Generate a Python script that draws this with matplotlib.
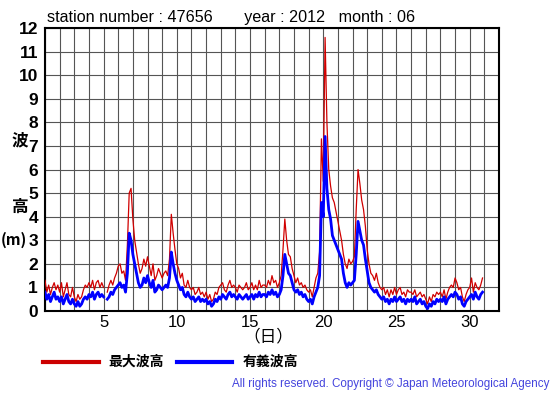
import numpy as np
import matplotlib
matplotlib.use('Agg')
import matplotlib.pyplot as plt
from matplotlib.lines import Line2D

STATION = '47656'
YEAR = '2012'
MONTH = '06'

# 3-hourly values, 8 per day, days 1..30 of June 2012
nan = np.nan
sig_wave = [  # significant wave height (m)
    0.8, 0.5, 0.7, 0.4, 0.6, 0.8, 0.5, 0.6,
    0.4, 0.6, 0.3, 0.5, 0.7, 0.4, 0.3, 0.5,
    0.3, 0.2, 0.4, 0.2, 0.3, 0.5, 0.6, 0.5,
    0.7, 0.6, 0.8, 0.5, 0.7, 0.8, 0.6, 0.7,
    0.6, nan, 0.5, 0.6, 0.8, 0.7, 0.9, 1.0,
    1.1, 1.2, 1.0, 1.1, 0.8, 1.6, 3.3, 3.0,
    2.4, 2.0, 1.6, 1.2, 1.0, 1.1, 1.4, 1.2,
    1.5, 1.2, 1.0, 1.3, 0.8, 0.9, 1.1, 1.0,
    0.9, 1.0, 1.1, 1.0, 1.4, 2.5, 2.0, 1.6,
    1.3, 1.1, 0.9, 1.0, 0.7, 0.6, 0.8, 0.6,
    0.5, 0.6, 0.4, 0.5, 0.6, 0.4, 0.5, 0.4,
    0.5, 0.3, 0.4, 0.2, 0.3, 0.5, 0.4, 0.6,
    0.5, 0.7, 0.6, 0.5, 0.7, 0.8, 0.6, 0.7,
    0.6, 0.5, 0.7, 0.6, 0.5, 0.6, 0.7, 0.5,
    0.6, 0.7, 0.5, 0.7, 0.6, 0.8, 0.6, 0.7,
    0.7, 0.6, 0.8, 0.7, 0.9, 0.7, 0.8, 0.6,
    0.7, 0.9, 1.5, 2.4, 2.0, 1.6, 1.5, 1.2,
    0.9, 0.8, 0.9, 0.7, 0.8, 0.6, 0.7, 0.5,
    0.4, 0.5, 0.3, 0.6, 0.8, 1.0, 1.5, 4.6,
    4.0, 7.4, 5.2, 4.3, 3.9, 3.2, 3.0, 2.8,
    2.6, 2.4, 2.2, 1.6, 1.2, 1.0, 1.2, 1.1,
    1.2, 1.3, 2.4, 3.8, 3.4, 3.0, 2.8, 2.2,
    1.7, 1.2, 1.0, 0.9, 0.8, 0.9, 0.7, 0.6,
    0.5, 0.6, 0.4, 0.5, 0.3, 0.5, 0.4, 0.6,
    0.4, 0.5, 0.6, 0.4, 0.5, 0.3, 0.5, 0.4,
    0.5, 0.4, 0.6, 0.3, 0.4, 0.5, 0.3, 0.4,
    0.2, 0.1, 0.3, 0.2, 0.4, 0.3, 0.5, 0.4,
    0.5, 0.4, 0.6, 0.3, 0.5, 0.6, 0.7, 0.6,
    0.8, 0.7, 0.5, 0.6, 0.3, 0.2, 0.4, 0.5,
    0.6, 0.7, 0.5, 0.8, 0.6, 0.5, 0.7, 0.8,
]
max_wave = [  # maximum wave height (m)
    1.3, 0.8, 1.1, 0.7, 1.0, 1.2, 0.9, 1.1,
    0.8, 1.2, 0.6, 0.9, 1.2, 0.7, 0.6, 1.0,
    0.6, 0.4, 0.7, 0.5, 0.6, 0.9, 1.1, 1.0,
    1.2, 1.0, 1.3, 0.9, 1.2, 1.3, 1.0, 1.2,
    1.0, nan, 0.8, 1.1, 1.3, 1.1, 1.4, 1.6,
    1.9, 2.0, 1.6, 1.7, 1.3, 2.8, 5.0, 5.2,
    3.9, 3.0, 2.5, 2.0, 1.6, 1.8, 2.2, 1.9,
    2.3, 1.9, 1.5, 2.0, 1.3, 1.5, 1.8, 1.6,
    1.4, 1.6, 1.7, 1.5, 2.2, 4.1, 3.3, 2.6,
    2.0, 1.8, 1.4, 1.6, 1.1, 1.0, 1.3, 1.0,
    0.9, 1.0, 0.7, 0.8, 1.0, 0.7, 0.8, 0.6,
    0.8, 0.5, 0.7, 0.4, 0.5, 0.8, 0.7, 1.0,
    1.1, 1.2, 0.9, 0.8, 1.1, 1.3, 1.0, 1.1,
    1.0, 0.8, 1.1, 1.0, 0.9, 1.0, 1.2, 0.9,
    1.0, 1.2, 0.9, 1.1, 0.9, 1.3, 1.0, 1.1,
    1.1, 1.0, 1.3, 1.1, 1.5, 1.2, 1.3, 1.0,
    1.2, 1.5, 2.6, 3.9, 3.0, 2.4, 2.3, 1.8,
    1.5, 1.2, 1.4, 1.1, 1.2, 1.0, 1.1, 0.9,
    0.8, 0.9, 0.6, 1.0, 1.4, 1.6, 2.5, 7.3,
    5.5, 11.6, 8.0, 6.0, 5.3, 4.8, 4.6, 4.2,
    3.8, 3.4, 3.0, 2.4, 2.0, 1.8, 2.2, 2.0,
    2.1, 2.3, 4.3, 6.0, 5.4, 4.7, 4.3, 3.6,
    2.6, 2.0, 1.6, 1.5, 1.3, 1.6, 1.2, 1.0,
    0.9, 1.0, 0.7, 0.9, 0.6, 0.9, 0.7, 1.0,
    0.7, 0.9, 1.0, 0.7, 0.8, 0.6, 0.9, 0.8,
    0.8, 0.7, 0.9, 0.6, 0.7, 0.8, 0.6, 0.7,
    0.5, 0.3, 0.6, 0.4, 0.7, 0.6, 0.8, 0.7,
    0.8, 0.6, 0.9, 0.5, 0.8, 1.0, 1.1, 1.0,
    1.4, 1.2, 0.9, 1.0, 0.6, 0.4, 0.7, 0.9,
    1.0, 1.4, 0.8, 1.2, 1.0, 0.9, 1.1, 1.4,
]
days = 1 + np.arange(len(sig_wave)) / 8.0

x_ticks = [5, 10, 15, 20, 25, 30]
y_ticks = list(range(0, 13))

LATIN = ['Liberation Sans', 'DejaVu Sans']
CJK = ['Noto Sans CJK JP', 'DejaVu Sans']

fig = plt.figure(figsize=(5.55, 3.95), dpi=100)
ax = fig.add_axes([45/555, 84/395, 454/555, 283/395])

ax.plot(days, max_wave, color='#d00000', lw=0.9, zorder=3)
ax.plot(days, sig_wave, color='#0000ff', lw=2.0, zorder=4)

ax.set_xlim(1, 32)
ax.set_ylim(0, 12)
ax.set_xticks(range(1, 33), minor=True)
ax.set_xticks(x_ticks)
ax.set_yticks(y_ticks)
ax.grid(True, which='both', color='#555555', lw=0.8, zorder=1)
ax.tick_params(which='both', length=0)
ax.tick_params(axis='x', pad=3)
ax.tick_params(axis='y', pad=5)
for lab in ax.get_xticklabels():
    lab.set_fontfamily(LATIN)
    lab.set_fontsize(12)
for lab in ax.get_yticklabels():
    lab.set_fontfamily(LATIN)
    lab.set_fontsize(12.5)
    lab.set_fontweight('bold')
for s in ax.spines.values():
    s.set_linewidth(1.5)

fig.text(47/555, 1 - 22/395,
         f'station number : {STATION}       year : {YEAR}   month : {MONTH}',
         family=LATIN, fontsize=11.6)

fig.text(20/555, 1 - 140/395, '波', family=CJK, fontsize=12, fontweight='bold',
         ha='center', va='center')
fig.text(20/555, 1 - 207/395, '高', family=CJK, fontsize=12, fontweight='bold',
         ha='center', va='center')
fig.text(14/555, 1 - 240/395, '(m)', family=CJK, fontsize=11, fontweight='bold',
         ha='center', va='center')
fig.text(268/555, 1 - 337/395, '（日）', family=CJK, fontsize=12,
         ha='center', va='center')

# legend
fig.add_artist(Line2D([43/555, 99/555], [1 - 362/395] * 2, color='#cc0000', lw=3))
fig.text(108/555, 1 - 362/395, '最大波高', family=CJK, fontsize=10, fontweight='bold',
         va='center')
fig.add_artist(Line2D([177/555, 232/555], [1 - 362/395] * 2, color='#0000ff', lw=3))
fig.text(243/555, 1 - 362/395, '有義波高', family=CJK, fontsize=10, fontweight='bold',
         va='center')

fig.text(550/555, 1 - 384/395,
         'All rights reserved. Copyright \u00a9 Japan Meteorological Agency',
         family=LATIN, fontsize=8.4, color='#4444dd', ha='right', va='center')

fig.savefig('out.png', dpi=100)
